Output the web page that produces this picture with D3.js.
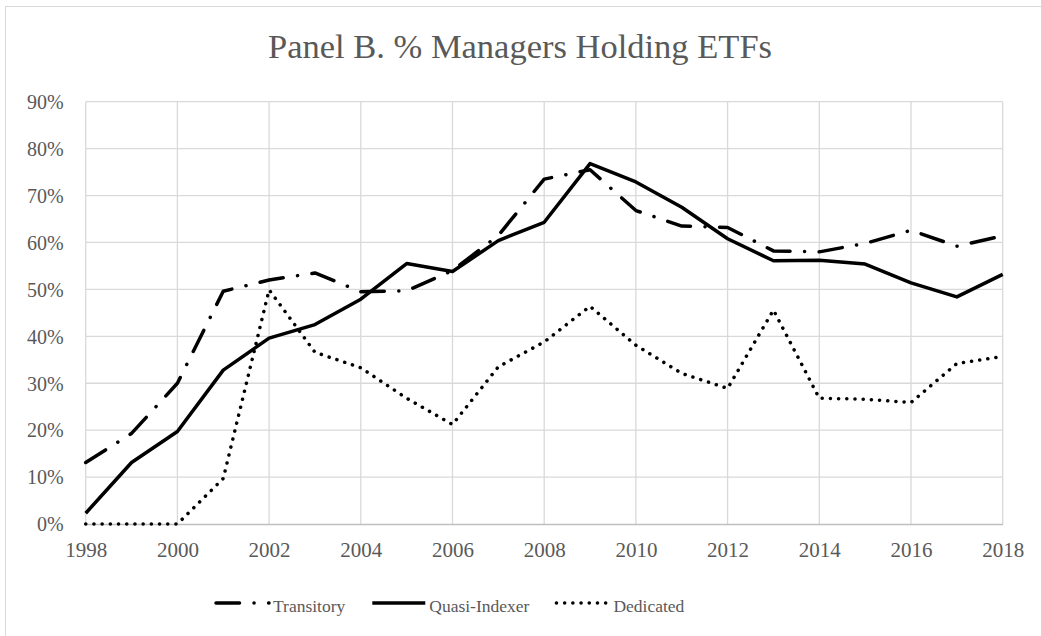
<!DOCTYPE html>
<html>
<head>
<meta charset="utf-8">
<script src="https://cdn.jsdelivr.net/npm/d3@7"></script>
<style>
  html, body { margin: 0; padding: 0; background: #fff; }
  svg { display: block; }
</style>
</head>
<body>
<svg id="chart" width="1041" height="636"></svg>
<script>
// ---- Data ----
const years = [1998,1999,2000,2001,2002,2003,2004,2005,2006,2007,2008,2009,2010,2011,2012,2013,2014,2015,2016,2017,2018];
const transitory = [0.131,0.193,0.300,0.496,0.520,0.535,0.495,0.497,0.540,0.615,0.735,0.755,0.668,0.635,0.632,0.582,0.580,0.598,0.626,0.592,0.614];
const quasiIndexer = [0.023,0.131,0.197,0.328,0.396,0.425,0.479,0.555,0.538,0.604,0.643,0.768,0.729,0.675,0.608,0.561,0.562,0.554,0.514,0.484,0.532];
const dedicated = [0.000,0.000,0.000,0.097,0.499,0.366,0.333,0.268,0.212,0.335,0.388,0.464,0.381,0.321,0.289,0.456,0.268,0.266,0.259,0.342,0.357];
const seriesNames = ["Transitory","Quasi-Indexer","Dedicated"];
const xTicks = [1998,2000,2002,2004,2006,2008,2010,2012,2014,2016,2018];
const yTicks = [0,0.1,0.2,0.3,0.4,0.5,0.6,0.7,0.8,0.9];
const titleText = "Panel B. % Managers Holding ETFs";

// ---- Layout ----
const svg = d3.select("#chart");
const FONT = "'Liberation Serif', 'DejaVu Serif', serif";
const TEXT = "#595959";
const x = d3.scaleLinear().domain([1998, 2018]).range([85.7, 1002.7]);
const y = d3.scaleLinear().domain([0, 0.9]).range([524, 101.7]);

// outer chart border
svg.append("rect").attr("x", 5.5).attr("y", 6.5).attr("width", 1100).attr("height", 700)
  .attr("fill", "#fff").attr("stroke", "#d9d9d9").attr("stroke-width", 1);

// title
svg.append("text").attr("x", 520).attr("y", 58)
  .attr("text-anchor", "middle").attr("font-family", FONT).attr("font-size", 34.5)
  .attr("fill", TEXT).text(titleText);

// gridlines
const grid = svg.append("g");
grid.selectAll("line.h").data(yTicks.filter(d => d > 0)).join("line")
  .attr("x1", x(1998)).attr("x2", x(2018))
  .attr("y1", d => y(d)).attr("y2", d => y(d))
  .attr("stroke", "#d9d9d9").attr("stroke-width", 1.3);
grid.selectAll("line.v").data(xTicks).join("line")
  .attr("x1", d => x(d)).attr("x2", d => x(d))
  .attr("y1", y(0.9)).attr("y2", y(0))
  .attr("stroke", "#d9d9d9").attr("stroke-width", 1.3);

// x axis
const xAxis = d3.axisBottom(x).tickValues(xTicks).tickFormat(d3.format("d")).tickSize(0).tickPadding(0);
const gx = svg.append("g").attr("transform", `translate(0,${y(0)})`).call(xAxis);
gx.select(".domain").attr("stroke", "#bfbfbf").attr("stroke-width", 1.5);
gx.selectAll("text").attr("font-family", FONT).attr("font-size", 21).attr("fill", TEXT)
  .attr("dy", null).attr("y", 33);

// y axis
const yAxis = d3.axisLeft(y).tickValues(yTicks).tickFormat(d3.format(".0%")).tickSize(0).tickPadding(0);
const gy = svg.append("g").attr("transform", `translate(${x(1998)},0)`).call(yAxis);
gy.select(".domain").remove();
gy.selectAll("text").attr("font-family", FONT).attr("font-size", 20).attr("fill", TEXT)
  .attr("x", -22).attr("dy", "0.34em");

// lines
const styles = {
  "Transitory": { dash: "23.5 14.5 0.1 14.5" },
  "Quasi-Indexer": { dash: null },
  "Dedicated": { dash: "0.1 8.1" }
};
const series = [
  { name: "Transitory", values: transitory },
  { name: "Quasi-Indexer", values: quasiIndexer },
  { name: "Dedicated", values: dedicated }
];
const line = d3.line().x((d, i) => x(years[i])).y(d => y(d));
svg.append("g").selectAll("path").data(series).join("path")
  .attr("d", d => line(d.values))
  .attr("fill", "none").attr("stroke", "#000").attr("stroke-width", 3.5)
  .attr("stroke-linejoin", "round")
  .attr("stroke-linecap", d => d.name === "Quasi-Indexer" ? "butt" : "round")
  .attr("stroke-dasharray", d => styles[d.name].dash);

// legend
const legend = svg.append("g");
let lx = 216;
const ly = 603;
seriesNames.forEach(name => {
  legend.append("line").attr("x1", lx).attr("x2", lx + 53).attr("y1", ly).attr("y2", ly)
    .attr("stroke", "#000").attr("stroke-width", 3.5)
    .attr("stroke-linecap", name === "Quasi-Indexer" ? "butt" : "round")
    .attr("stroke-dasharray", styles[name].dash);
  const t = legend.append("text").attr("x", lx + 57).attr("y", ly + 8.5)
    .attr("font-family", FONT).attr("font-size", 17.5).attr("fill", TEXT).text(name);
  const w = t.node().getComputedTextLength();
  lx = lx + 57 + w + 27;
});
</script>
</body>
</html>
